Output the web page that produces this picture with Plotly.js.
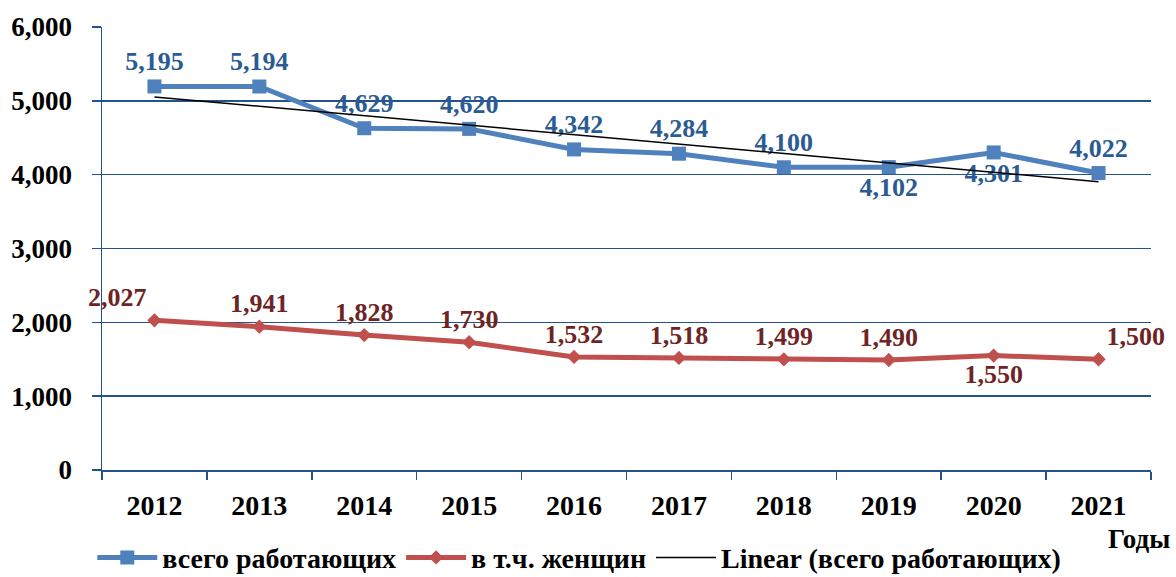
<!DOCTYPE html>
<html>
<head>
<meta charset="utf-8">
<script src="https://cdn.plot.ly/plotly-3.0.1.min.js"></script>
<style>
  html, body { margin: 0; padding: 0; background: #fff; }
  #chart { width: 1176px; height: 577px; }
</style>
</head>
<body>
<div id="chart"></div>
<script>
// data
let years = ['2012', '2013', '2014', '2015', '2016', '2017', '2018', '2019', '2020', '2021'];
let allWorkers = [5195, 5194, 4629, 4620, 4342, 4284, 4100, 4102, 4301, 4022];
let women = [2027, 1941, 1828, 1730, 1532, 1518, 1499, 1490, 1550, 1500];

let nameAll = 'всего работающих';
let nameWomen = 'в т.ч. женщин';
let nameTrend = 'Linear (всего работающих)';

// where each data label sits
let posAll = ['top center', 'top center', 'top center', 'top center', 'top center',
              'top center', 'top center', 'bottom center', 'bottom center', 'top center'];
let posWomen = ['top left', 'top center', 'top center', 'top center', 'top center',
                'top center', 'top center', 'top center', 'bottom center', 'top right'];

// least squares trend of the total
function linearFit(vals) {
    let n = vals.length, sx = 0, sy = 0, sxy = 0, sxx = 0;
    for (let i = 0; i < n; ++i) {
        sx += i; sy += vals[i]; sxy += i * vals[i]; sxx += i * i;
    }
    let k = (n * sxy - sx * sy) / (n * sxx - sx * sx);
    let b = (sy - k * sx) / n;
    return vals.map((v, i) => b + k * i);
}

let fmt = v => v.toLocaleString('en-US');
let serif = '"Liberation Serif", "Times New Roman", serif';
let gridBlue = '#24528c';

let data = [{
    x: years,
    y: allWorkers,
    name: nameAll,
    mode: 'lines+markers+text',
    line: { color: '#4f81bd', width: 5 },
    marker: { symbol: 'square', size: 14, color: '#4f81bd' },
    text: allWorkers.map(fmt),
    textposition: posAll,
    textfont: { family: serif, size: 26, weight: 'bold', color: '#2a5b93' },
    cliponaxis: false,
}, {
    x: years,
    y: women,
    name: nameWomen,
    mode: 'lines+markers+text',
    line: { color: '#c0504d', width: 5 },
    marker: { symbol: 'diamond', size: 11, color: '#c0504d' },
    text: women.map(fmt),
    textposition: posWomen,
    textfont: { family: serif, size: 26, weight: 'bold', color: '#6e2424' },
    cliponaxis: false,
}, {
    x: years,
    y: linearFit(allWorkers),
    name: nameTrend,
    mode: 'lines',
    line: { color: '#000000', width: 1.5 },
    hoverinfo: 'skip',
}];

let layout = {
    width: 1176,
    height: 577,
    margin: { l: 102, r: 25, t: 27, b: 107, pad: 0, autoexpand: false },
    paper_bgcolor: '#ffffff',
    plot_bgcolor: '#ffffff',
    font: { family: serif, size: 26, weight: 'bold', color: '#000' },
    showlegend: true,
    legend: {
        orientation: 'h',
        x: 0.455, xanchor: 'center',
        y: -0.198, yanchor: 'middle',
        font: { family: serif, size: 28, weight: 'bold', color: '#000' },
        itemwidth: 60,
        tracegroupgap: 0,
    },
    xaxis: {
        type: 'category',
        range: [-0.5, 9.5],
        showline: true,
        linecolor: gridBlue,
        linewidth: 1.5,
        showgrid: false,
        zeroline: false,
        ticks: 'outside',
        tickson: 'boundaries',
        ticklen: 8,
        tickcolor: gridBlue,
        tickwidth: 1.5,
        ticklabelstandoff: 10,
        tickfont: { family: serif, size: 28, weight: 'bold', color: '#000' },
    },
    yaxis: {
        range: [0, 6000],
        dtick: 1000,
        tickformat: ',d',
        showline: true,
        linecolor: gridBlue,
        linewidth: 1.5,
        showgrid: true,
        gridcolor: gridBlue,
        gridwidth: 1.5,
        zeroline: false,
        ticks: 'outside',
        ticklen: 9,
        tickcolor: gridBlue,
        tickwidth: 1.5,
        ticklabelstandoff: 14,
        tickfont: { family: serif, size: 27, weight: 'bold', color: '#000' },
    },
    annotations: [{
        text: 'Годы',
        xref: 'paper', yref: 'paper',
        x: 1.02, xanchor: 'right',
        y: -0.155, yanchor: 'middle',
        showarrow: false,
        font: { family: serif, size: 27, weight: 'bold', color: '#000' },
    }],
};

Plotly.newPlot('chart', data, layout, { staticPlot: true });
</script>
</body>
</html>
